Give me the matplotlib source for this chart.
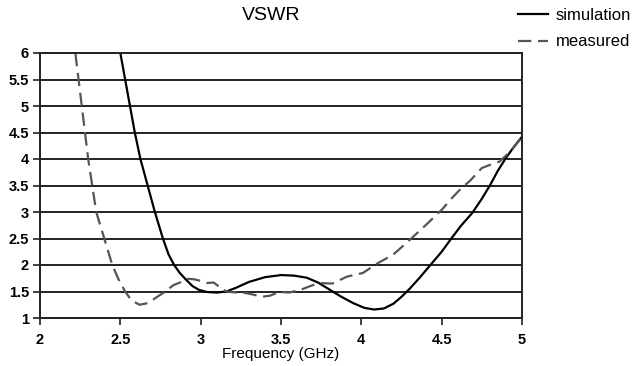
import matplotlib
matplotlib.use("Agg")
import matplotlib.pyplot as plt

plt.rcParams['font.family'] = ['Liberation Sans', 'DejaVu Sans']

# simulated VSWR (solid)
sim_freq = [2.5, 2.53, 2.56, 2.59, 2.625, 2.67, 2.715, 2.765, 2.8, 2.835, 2.87, 2.91,
            2.95, 2.99, 3.04, 3.1, 3.16, 3.22, 3.3, 3.4, 3.5, 3.58, 3.66, 3.73,
            3.8, 3.87, 3.95, 4.02, 4.08, 4.14, 4.2, 4.25, 4.3, 4.36, 4.43, 4.5,
            4.56, 4.62, 4.69, 4.75, 4.8, 4.85, 4.9, 4.95, 5.0]
sim_vswr = [6, 5.5, 5, 4.5, 4, 3.5, 3, 2.5, 2.2, 2.0, 1.85, 1.72,
            1.6, 1.53, 1.49, 1.48, 1.5, 1.57, 1.68, 1.77, 1.81, 1.8, 1.76, 1.67,
            1.54, 1.41, 1.28, 1.19, 1.16, 1.18, 1.27, 1.4, 1.55, 1.75, 2.0, 2.25,
            2.5, 2.74, 2.98, 3.25, 3.5, 3.78, 4.02, 4.23, 4.42]

# measured VSWR (dashed)
meas_freq = [2.22, 2.24, 2.26, 2.28, 2.3, 2.325, 2.35, 2.4, 2.45, 2.49, 2.53, 2.57,
             2.62, 2.67, 2.72, 2.78, 2.83, 2.88, 2.92, 2.96, 3.0, 3.04, 3.08, 3.12,
             3.16, 3.22, 3.28, 3.33, 3.38, 3.43, 3.49, 3.55, 3.62, 3.68, 3.74, 3.82,
             3.91, 4.01, 4.1, 4.2, 4.3, 4.4, 4.5, 4.56, 4.61, 4.68, 4.75, 4.81,
             4.86, 4.93, 5.0]
meas_vswr = [6, 5.5, 5, 4.5, 4, 3.5, 3, 2.5, 2.0, 1.72, 1.5, 1.33,
             1.25, 1.28, 1.38, 1.5, 1.62, 1.68, 1.74, 1.73, 1.7, 1.66, 1.67, 1.58,
             1.5, 1.48, 1.47, 1.44, 1.4, 1.42, 1.49, 1.48, 1.53, 1.6, 1.66, 1.65,
             1.78, 1.85, 2.03, 2.2, 2.47, 2.75, 3.04, 3.25, 3.41, 3.6, 3.83, 3.9,
             3.95, 4.15, 4.42]

x_ticks = [2, 2.5, 3, 3.5, 4, 4.5, 5]
x_labels = ["2", "2.5", "3", "3.5", "4", "4.5", "5"]
y_ticks = [1, 1.5, 2, 2.5, 3, 3.5, 4, 4.5, 5, 5.5, 6]
y_labels = ["1", "1.5", "2", "2.5", "3", "3.5", "4", "4.5", "5", "5.5", "6"]

fig = plt.figure(figsize=(6.43, 3.66), dpi=100)
ax = fig.add_axes([40 / 643, 1 - 318 / 366, 482 / 643, 265 / 366])

ax.plot(sim_freq, sim_vswr, color='black', lw=1.6, label='simulation')
ax.plot(meas_freq, meas_vswr, color='#555555', lw=1.6, dashes=(6, 3), label='measured')

ax.set_xlim(2, 5)
ax.set_ylim(1, 6)
ax.set_xticks(x_ticks)
ax.set_xticklabels(x_labels, fontsize=10.5, fontweight='bold')
ax.set_yticks(y_ticks)
ax.set_yticklabels(y_labels, fontsize=10.5, fontweight='bold')
ax.grid(True, axis='y', color='#222222', lw=1.4)
ax.set_axisbelow(True)
for s in ax.spines.values():
    s.set_color('#222222')
    s.set_linewidth(1.4)
ax.tick_params(axis='y', direction='out', length=5, width=1.2, pad=3, color='#222222')
ax.tick_params(axis='x', direction='out', length=5, width=1.2, pad=6, color='#222222')

ax.set_title("VSWR", fontsize=14, pad=24, x=0.48)
ax.set_xlabel("Frequency (GHz)", fontsize=11, labelpad=0)

fig.legend(loc='upper right', bbox_to_anchor=(1.005, 1.02), frameon=False,
           fontsize=12, handlelength=1.8, labelspacing=0.7, handletextpad=0.5)

fig.savefig("out.png", dpi=100)
